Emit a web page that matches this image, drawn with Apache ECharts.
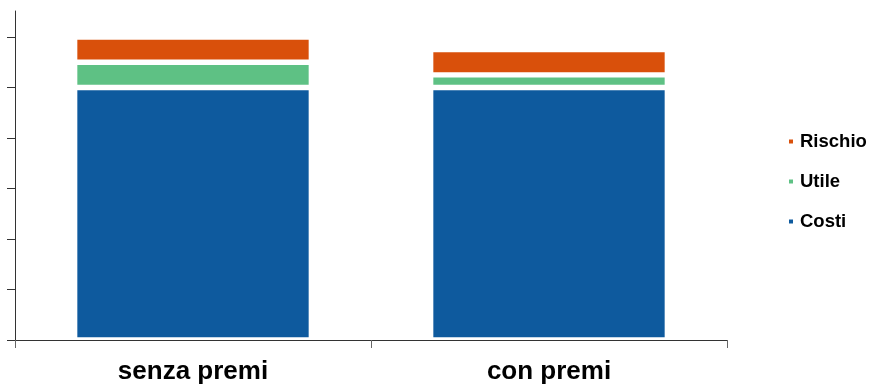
<!DOCTYPE html>
<html>
<head>
<meta charset="utf-8">
<script src="https://cdn.jsdelivr.net/npm/echarts@6/dist/echarts.min.js"></script>
<style>
  html, body { margin: 0; padding: 0; background: #ffffff; }
  #chart { width: 873px; height: 385px; }
</style>
</head>
<body>
<div id="chart"></div>
<script>
// Categories and stacked values (cost, profit, risk)
const categories = ['senza premi', 'con premi'];
const costi = [5, 5];
const utile = [0.5, 0.25];
const rischio = [0.5, 0.5];
const legendOrder = ['Rischio', 'Utile', 'Costi'];

const colors = { Costi: '#0E5A9E', Utile: '#5EC184', Rischio: '#D9500B' };
const FONT = 'Liberation Sans, Arial, sans-serif';

const chart = echarts.init(document.getElementById('chart'), null, { renderer: 'canvas' });

function barSeries(name, data) {
  return {
    name: name,
    type: 'bar',
    stack: 'total',
    xAxisIndex: 0,
    yAxisIndex: 0,
    barWidth: '66.5%',
    data: data,
    itemStyle: { color: colors[name], borderColor: '#ffffff', borderWidth: 2.7 },
    emphasis: { disabled: true }
  };
}

chart.setOption({
  animation: false,
  backgroundColor: '#ffffff',
  grid: [
    { left: 15, right: 146, top: 37, bottom: 44 },
    { left: 15, right: 146, top: 11, bottom: 44 }
  ],
  legend: {
    data: legendOrder,
    orient: 'vertical',
    left: 789,
    top: 132,
    padding: 0,
    itemWidth: 4,
    itemHeight: 4,
    itemGap: 21,
    icon: 'rect',
    itemStyle: { borderWidth: 0 },
    textStyle: { fontFamily: FONT, fontWeight: 'bold', fontSize: 18.5, color: '#000000', padding: [0, 0, 0, 2] }
  },
  xAxis: [
    {
      type: 'category',
      gridIndex: 0,
      data: categories,
      z: 5,
      axisLine: { lineStyle: { color: '#333333', width: 1 } },
      axisTick: { show: true, length: 8, lineStyle: { color: '#666666', width: 1 } },
      axisLabel: { fontFamily: FONT, fontWeight: 'bold', fontSize: 26, color: '#000000', margin: 19 },
      splitLine: { show: false }
    },
    {
      type: 'category',
      gridIndex: 1,
      data: categories,
      show: false
    }
  ],
  yAxis: [
    {
      type: 'value',
      gridIndex: 0,
      min: 0,
      max: 6,
      interval: 1,
      z: 5,
      axisLine: { show: true, lineStyle: { color: '#333333', width: 1 } },
      axisTick: { show: true, length: 8, lineStyle: { color: '#333333', width: 1 } },
      axisLabel: { show: false },
      splitLine: { show: false }
    },
    {
      type: 'value',
      gridIndex: 1,
      min: 0,
      max: 6.5,
      axisLine: { show: true, lineStyle: { color: '#333333', width: 1 } },
      axisTick: { show: false },
      axisLabel: { show: false },
      splitLine: { show: false }
    }
  ],
  series: [
    barSeries('Costi', costi),
    barSeries('Utile', utile),
    barSeries('Rischio', rischio)
  ]
});
</script>
</body>
</html>
